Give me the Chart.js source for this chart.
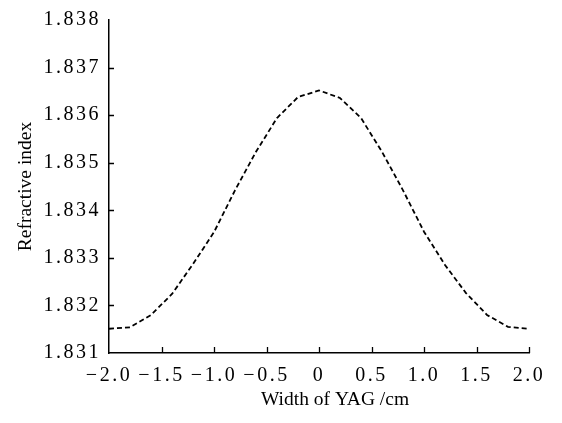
<!DOCTYPE html>
<html>
<head>
<meta charset="utf-8">
<script src="https://cdn.jsdelivr.net/npm/chart.js@4"></script>
<style>
  html, body { margin: 0; padding: 0; background: #fff; }
  #wrap { width: 562px; height: 423px; }
</style>
</head>
<body>
<div id="wrap"><canvas id="myChart"></canvas></div>
<script>
// curve
var widthCm = [-2.0, -1.8, -1.6, -1.4, -1.2, -1.0, -0.8, -0.6, -0.4, -0.2, 0,
               0.2, 0.4, 0.6, 0.8, 1.0, 1.2, 1.4, 1.6, 1.8, 2.0];
var refrIndex = [1.83151, 1.83154, 1.83180, 1.83224, 1.83287, 1.83354, 1.83442, 1.83523, 1.83594, 1.83638, 1.83652,
                 1.83636, 1.83594, 1.83523, 1.83442, 1.83355, 1.83285, 1.83226, 1.83180, 1.83155, 1.83151];

var xTickValues = [-2.0, -1.5, -1.0, -0.5, 0, 0.5, 1.0, 1.5, 2.0];
var xTickLabels = ['\u22122.0', '\u22121.5', '\u22121.0', '\u22120.5', '0', '0.5', '1.0', '1.5', '2.0'];
var yTickValues = [1.831, 1.832, 1.833, 1.834, 1.835, 1.836, 1.837, 1.838];
var yTickLabels = ['1.831', '1.832', '1.833', '1.834', '1.835', '1.836', '1.837', '1.838'];

var points = widthCm.map(function (x, i) { return { x: x, y: refrIndex[i] }; });

var serif = 'Liberation Serif, Times New Roman, serif';

// spaced tick labels, normal titles, inward tick marks
var tickStyle = {
  id: 'tickStyle',
  beforeDraw: function (chart) {
    var ctx = chart.ctx;
    ctx.letterSpacing = '2.5px';
    Object.keys(chart.scales).forEach(function (k) {
      var s = chart.scales[k];
      if (s._wrappedTitle) return;
      var orig = s.drawTitle.bind(s);
      s.drawTitle = function () {
        var c = this.ctx;
        var prev = c.letterSpacing;
        c.save();
        c.letterSpacing = '0px';
        if (this.axis === 'x') c.translate(16, 0);
        orig();
        c.restore();
        c.letterSpacing = prev;
      };
      s._wrappedTitle = true;
    });
  },
  afterDraw: function (chart) {
    var ctx = chart.ctx;
    var xs = chart.scales.x, ys = chart.scales.y;
    ctx.save();
    ctx.letterSpacing = '0px';
    ctx.strokeStyle = '#000';
    ctx.lineWidth = 1.3;
    ctx.beginPath();
    xTickValues.forEach(function (v, i) {
      if (i === 0) return;
      var px = Math.round(xs.getPixelForValue(v)) + 0.5;
      ctx.moveTo(px, ys.bottom);
      ctx.lineTo(px, ys.bottom - 6);
    });
    yTickValues.forEach(function (v, i) {
      if (i === 0 || i === yTickValues.length - 1) return;
      var py = Math.round(ys.getPixelForValue(v)) + 0.5;
      ctx.moveTo(xs.left, py);
      ctx.lineTo(xs.left + 5, py);
    });
    ctx.stroke();
    ctx.restore();
    ctx.letterSpacing = '0px';
  }
};

var ctx = document.getElementById('myChart').getContext('2d');
var myChart = new Chart(ctx, {
  type: 'line',
  data: {
    datasets: [{
      data: points,
      borderColor: '#000',
      borderWidth: 1.8,
      borderDash: [5, 3],
      pointRadius: 0,
      fill: false,
      tension: 0
    }]
  },
  options: {
    responsive: true,
    maintainAspectRatio: false,
    animation: false,
    layout: { padding: { left: 0, right: 33, top: 20, bottom: 0 } },
    plugins: {
      legend: { display: false },
      tooltip: { enabled: false }
    },
    scales: {
      x: {
        type: 'linear',
        min: -2,
        max: 2,
        afterBuildTicks: function (scale) {
          scale.ticks = xTickValues.map(function (v) { return { value: v }; });
        },
        afterFit: function (scale) { scale.height = 70; },
        grid: { display: true, drawOnChartArea: false, drawTicks: false },
        border: { display: true, color: '#000', width: 1.5 },
        ticks: {
          color: '#000',
          padding: 11,
          maxRotation: 0,
          autoSkip: false,
          font: { family: serif, size: 20 },
          callback: function (v, i) { return xTickLabels[i]; }
        },
        title: {
          display: true,
          text: 'Width of YAG /cm',
          color: '#000',
          font: { family: serif, size: 19.5 },
          padding: { top: 0, bottom: 11 }
        }
      },
      y: {
        min: 1.831,
        max: 1.838,
        afterBuildTicks: function (scale) {
          scale.ticks = yTickValues.map(function (v) { return { value: v }; });
        },
        afterFit: function (scale) { scale.width = 109; },
        grid: { display: true, drawOnChartArea: false, drawTicks: false },
        border: { display: true, color: '#000', width: 1.5 },
        ticks: {
          color: '#000',
          padding: 8,
          autoSkip: false,
          font: { family: serif, size: 20 },
          callback: function (v, i) { return yTickLabels[i]; }
        },
        title: {
          display: true,
          text: 'Refractive index',
          color: '#000',
          font: { family: serif, size: 19.5 },
          padding: { top: 14, bottom: 0 }
        }
      }
    }
  },
  plugins: [tickStyle]
});
</script>
</body>
</html>
